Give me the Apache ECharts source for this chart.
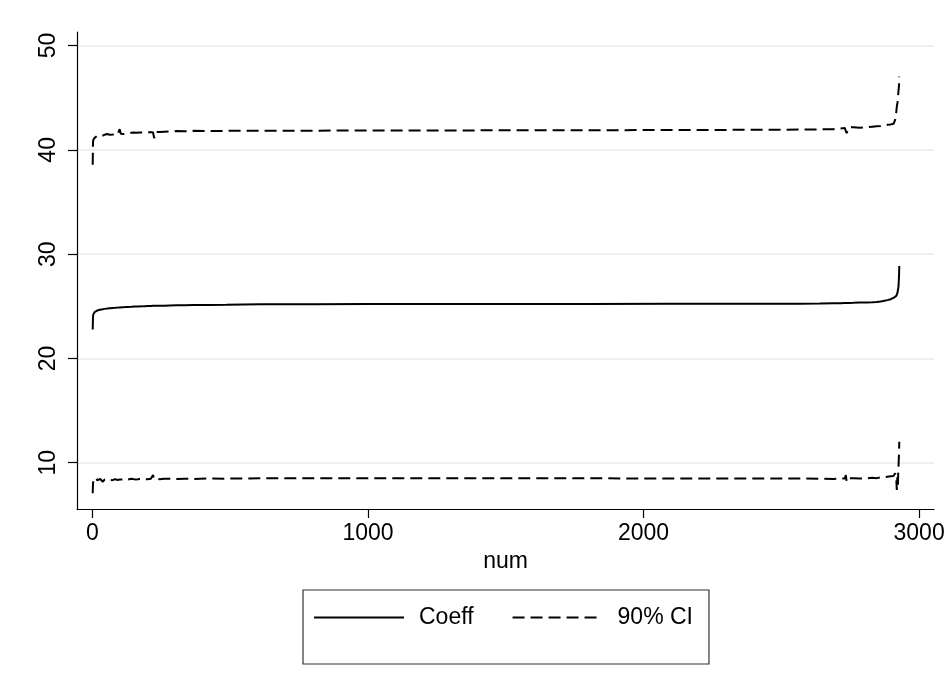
<!DOCTYPE html>
<html>
<head>
<meta charset="utf-8">
<script src="https://cdn.jsdelivr.net/npm/echarts@6/dist/echarts.min.js"></script>
<style>
html,body{margin:0;padding:0;background:#fff;}
#chart{width:952px;height:696px;}
</style>
</head>
<body>
<div id="chart"></div>
<script>
// x positions (observation number, sorted)
const num = [1,2,3,5,8,10,12,14,16,18,20,22,24,26,28,31,34,38,41,44,47,50,54,57,60,63,66,70,74,78,82,87,91,95,99,103,106,110,114,118,123,129,135,141,148,154,160,166,172,178,185,192,200,206,212,216,220,224,229,235,244,260,281,305,335,365,420,486,607,800,1000,1200,1500,1800,2100,2400,2568,2640,2689,2715,2730,2734,2737,2745,2761,2785,2810,2830,2846,2860,2870,2885,2897,2907,2913,2917,2919,2921,2922,2923,2924,2925,2926,2927,2928];
// coefficient estimate
const coeff = [22.78,23.9,24.2,24.35,24.45,24.5,24.52,24.56,24.58,24.6,24.62,24.63,24.65,24.66,24.67,24.69,24.7,24.72,24.73,24.75,24.76,24.77,24.78,24.79,24.8,24.81,24.82,24.83,24.84,24.85,24.85,24.86,24.87,24.88,24.89,24.9,24.9,24.91,24.92,24.92,24.93,24.94,24.95,24.95,24.96,24.97,24.98,24.98,24.99,24.99,25.0,25.01,25.02,25.02,25.03,25.03,25.04,25.04,25.04,25.05,25.05,25.06,25.08,25.09,25.1,25.11,25.12,25.14,25.2,25.2,25.21,25.21,25.22,25.22,25.23,25.24,25.25,25.27,25.29,25.3,25.31,25.32,25.32,25.32,25.33,25.35,25.37,25.39,25.42,25.46,25.5,25.59,25.68,25.8,25.9,26.0,26.1,26.25,26.4,26.55,26.7,26.86,27.3,27.9,28.87];
// upper bound of 90% CI
const ciHi = [38.56,40.6,40.95,41.1,41.15,41.25,41.3,41.2,41.32,41.35,41.22,41.25,41.36,41.3,41.38,41.4,41.3,41.35,41.46,41.45,41.36,41.4,41.52,41.5,41.42,41.44,41.55,41.55,41.46,41.5,41.6,41.58,41.5,41.6,41.98,41.55,41.62,41.6,41.52,41.58,41.6,41.66,41.62,41.56,41.66,41.6,41.64,41.7,41.66,41.62,41.68,41.72,41.66,41.7,41.7,41.64,41.66,41.12,41.7,41.7,41.7,41.74,41.76,41.8,41.78,41.82,41.8,41.82,41.82,41.84,41.85,41.86,41.87,41.88,41.9,41.92,41.94,41.96,41.98,42.05,42.1,42.23,41.6,42.15,42.17,42.12,42.17,42.22,42.26,42.28,42.3,42.4,42.44,42.5,42.87,43.6,44.15,44.0,44.6,45.0,45.3,45.59,45.9,46.2,47.02];
// lower bound of 90% CI
const ciLo = [7.07,7.9,8.3,8.4,8.45,8.36,8.3,8.5,8.38,8.3,8.46,8.45,8.32,8.35,8.44,8.4,8.3,8.18,8.36,8.38,8.28,8.3,8.44,8.42,8.3,8.34,8.44,8.4,8.32,8.3,8.42,8.4,8.34,8.35,8.38,8.25,8.4,8.4,8.36,8.32,8.45,8.38,8.4,8.46,8.48,8.4,8.5,8.42,8.44,8.48,8.46,8.4,8.42,8.48,8.45,8.4,8.82,8.42,8.46,8.44,8.41,8.45,8.46,8.44,8.47,8.44,8.48,8.47,8.5,8.5,8.5,8.5,8.5,8.5,8.49,8.48,8.48,8.46,8.44,8.5,8.48,8.82,8.18,8.5,8.52,8.48,8.5,8.55,8.52,8.6,8.6,8.66,8.7,8.73,8.98,8.5,7.38,8.6,8.34,7.6,8.9,9.5,10.2,11.0,12.01];
const xTicks = [0,1000,2000,3000];
const yTicks = [10,20,30,40,50];

const pairs = (ys) => num.map((x, i) => [x, ys[i]]);
const FONT = "'Liberation Sans', Arial, sans-serif";
const dash = [12, 6];

const chart = echarts.init(document.getElementById('chart'), null, {renderer: 'canvas'});
chart.setOption({
  animation: false,
  backgroundColor: '#ffffff',
  textStyle: {fontFamily: FONT, color: '#000'},
  grid: {left: 77, right: 18, top: 32, bottom: 187, containLabel: false},
  xAxis: {
    type: 'value', min: -56, max: 3054,
    name: 'num', nameLocation: 'middle', nameGap: 38,
    nameTextStyle: {fontSize: 23, color: '#000', fontFamily: FONT},
    axisLine: {show: true, onZero: false, lineStyle: {color: '#000', width: 1.2}},
    axisTick: {show: true, length: 9, customValues: xTicks, lineStyle: {color: '#000', width: 1.2}},
    axisLabel: {customValues: xTicks, fontSize: 23, color: '#000', margin: 13, fontFamily: FONT,
                formatter: (v) => String(v)},
    splitLine: {show: false}
  },
  yAxis: {
    type: 'value', min: 5.56, max: 51.3,
    axisLine: {show: true, onZero: false, lineStyle: {color: '#000', width: 1.2}},
    axisTick: {show: true, length: 9, customValues: yTicks, lineStyle: {color: '#000', width: 1.2}},
    axisLabel: {customValues: yTicks, rotate: 90, fontSize: 23, color: '#000', margin: 17, fontFamily: FONT,
                formatter: (v) => String(v)},
    splitLine: {show: true, lineStyle: {color: '#eaf1f3', width: 2}}
  },
  legend: {
    left: 303, top: 590,
    orient: 'horizontal',
    data: ['Coeff', '90% CI'],
    itemWidth: 90, itemHeight: 23, itemGap: 38,
    padding: [16, 16, 35, 10],
    borderColor: '#333', borderWidth: 1.2,
    itemStyle: {color: 'rgba(0,0,0,0)', borderColor: 'rgba(0,0,0,0)', borderWidth: 0, opacity: 0},
    textStyle: {fontSize: 23, color: '#000', fontFamily: FONT, padding: [0, 0, 0, 10]},
    selectedMode: false
  },
  series: [
    {name: 'Coeff', type: 'line', data: pairs(coeff), symbol: 'none', showSymbol: false,
     lineStyle: {color: '#000', width: 2, type: 'solid'}, itemStyle: {color: '#000'}},
    {name: '90% CI', type: 'line', data: pairs(ciHi), symbol: 'none', showSymbol: false,
     lineStyle: {color: '#000', width: 2, type: dash}, itemStyle: {color: '#000'}},
    {name: '90% CI', type: 'line', data: pairs(ciLo), symbol: 'none', showSymbol: false,
     lineStyle: {color: '#000', width: 2, type: dash}, itemStyle: {color: '#000'}}
  ]
});
</script>
</body>
</html>
